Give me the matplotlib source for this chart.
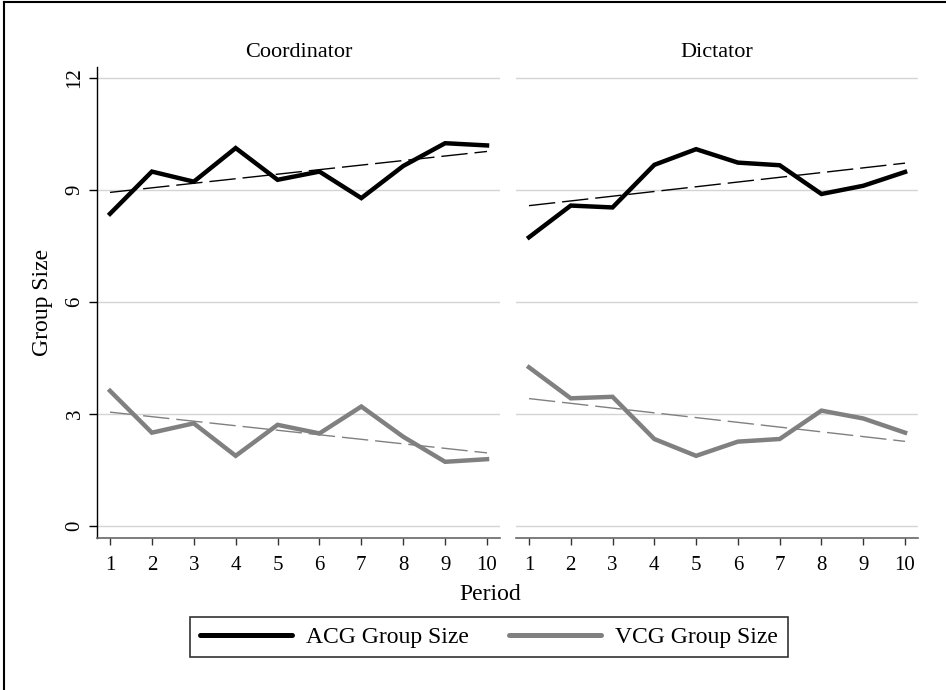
import numpy as np
import matplotlib
matplotlib.use("Agg")
import matplotlib.pyplot as plt
from matplotlib.lines import Line2D

periods = [1, 2, 3, 4, 5, 6, 7, 8, 9, 10]
panels = ["Coordinator", "Dictator"]
acg_coord = [8.36, 9.49, 9.22, 10.12, 9.27, 9.49, 8.78, 9.64, 10.25, 10.19]
vcg_coord = [3.62, 2.50, 2.75, 1.88, 2.71, 2.48, 3.20, 2.39, 1.72, 1.79]
acg_dict = [7.73, 8.58, 8.53, 9.67, 10.09, 9.73, 9.66, 8.89, 9.11, 9.48]
vcg_dict = [4.25, 3.42, 3.46, 2.33, 1.88, 2.26, 2.33, 3.09, 2.88, 2.50]
yticks = [0, 3, 6, 9, 12]
series_names = ["ACG Group Size", "VCG Group Size"]

plt.rcParams['font.family'] = ['Liberation Serif', 'DejaVu Serif']

fig = plt.figure(figsize=(9.46, 6.9), dpi=100)
W, H = 946, 690

def pos(x0, x1, y0, y1):
    return [x0 / W, 1 - y1 / H, (x1 - x0) / W, (y1 - y0) / H]

ax1 = fig.add_axes(pos(97, 500, 67, 538))
ax2 = fig.add_axes(pos(516, 918, 67, 538))

black = "#000000"
grey = "#808080"
data = [(acg_coord, vcg_coord), (acg_dict, vcg_dict)]
x = np.array(periods)
for i, (ax, title, (acg, vcg)) in enumerate(zip([ax1, ax2], panels, data)):
    ax.set_xlim(0.69, 10.31)
    ax.set_ylim(-0.32, 12.29)
    for yt in yticks:
        ax.axhline(yt, color="#d4d4d4", lw=1.0, zorder=0)
    ax.plot(x, acg, color=black, lw=3.2, solid_joinstyle='miter', zorder=3)
    ax.plot(x, vcg, color=grey, lw=3.2, solid_joinstyle='miter', zorder=3)
    pa = np.polyfit(x, acg, 1)
    pv = np.polyfit(x, vcg, 1)
    ax.plot(x, np.polyval(pa, x), color=black, lw=1.0, dashes=(19, 5), zorder=4)
    ax.plot(x, np.polyval(pv, x), color=grey, lw=1.0, dashes=(19, 5), zorder=4)
    ax.set_title(title, fontsize=16, pad=7)
    ax.set_xticks(periods)
    ax.set_xticklabels([str(p) for p in periods], fontsize=15)
    ax.tick_params(axis='x', length=5, width=1, color="#333333", pad=8)
    for s in ['top', 'right']:
        ax.spines[s].set_visible(False)
    ax.spines['bottom'].set_color("#666666")
    ax.spines['bottom'].set_linewidth(1.2)
    if i == 0:
        ax.set_yticks(yticks)
        ax.set_yticklabels([str(t) for t in yticks], fontsize=15, rotation=90, va='center')
        ax.tick_params(axis='y', length=6, width=1, pad=3)
        ax.spines['left'].set_color(black)
        ax.spines['left'].set_linewidth(1.0)
        ax.set_ylabel("Group Size", fontsize=17, labelpad=9)
    else:
        ax.spines['left'].set_visible(False)
        ax.set_yticks([])

fig.text(490 / W, 1 - 594 / H, "Period", fontsize=17, ha='center', va='center')

handles = [Line2D([], [], color=black, lw=3.6, solid_capstyle='round'),
           Line2D([], [], color=grey, lw=3.6, solid_capstyle='round')]
leg = fig.legend(handles, series_names, loc='center', bbox_to_anchor=(489 / W, 1 - 637 / H),
                 ncol=2, fontsize=17, frameon=True, fancybox=False, edgecolor=black,
                 handlelength=3.9, columnspacing=1.7, handletextpad=0.6,
                 borderpad=0.4, borderaxespad=0)
leg.get_frame().set_linewidth(1.2)

# outer frame (top and left)
fig.add_artist(Line2D([4 / W, 4 / W], [0, 1 - 2 / H], color=black, lw=1.5, transform=fig.transFigure))
fig.add_artist(Line2D([4 / W, 1], [1 - 2 / H, 1 - 2 / H], color=black, lw=1.5, transform=fig.transFigure))

fig.savefig("out.png", dpi=100)
